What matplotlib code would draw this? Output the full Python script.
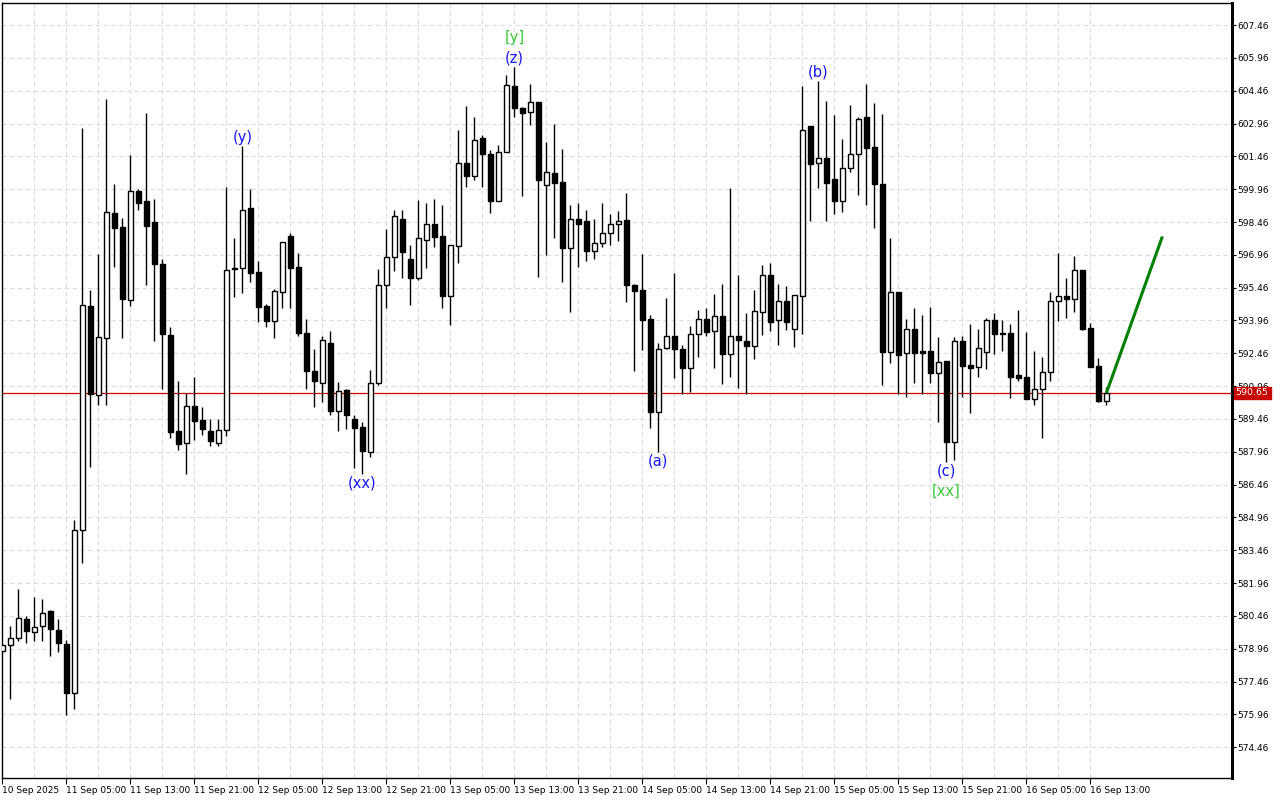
import numpy as np
import pandas as pd
import matplotlib
matplotlib.use('Agg')
import matplotlib.pyplot as plt
import matplotlib.transforms as mtransforms

# hourly bars, 10 Sep 21:00 .. 16 Sep 15:00
start_time = '2025-09-10 21:00'

opens = [578.85, 579.12, 579.45, 580.32, 579.73, 580.00, 580.68, 579.80, 579.18, 576.92,
         584.39, 594.64, 590.56, 593.17, 598.86, 598.22, 594.89, 599.88, 599.42, 598.44,
         596.54, 593.29, 588.89, 588.34, 590.05, 589.41, 588.90, 588.37, 588.95, 596.32,
         596.34, 599.08, 596.16, 594.62, 593.95, 595.27, 597.82, 596.42, 593.37, 591.66,
         591.12, 592.94, 589.82, 590.77, 589.48, 589.07, 587.95, 591.08, 595.60, 596.84,
         598.62, 596.79, 595.88, 597.66, 598.39, 597.81, 595.08, 597.37, 601.18, 600.57,
         602.28, 601.59, 599.43, 601.67, 604.67, 603.69, 603.47, 603.94, 600.15, 600.68,
         600.27, 597.28, 598.58, 598.49, 597.15, 597.48, 597.94, 598.39, 598.55, 595.58,
         595.35, 594.05, 589.79, 592.68, 593.25, 592.64, 591.77, 593.32, 594.05, 593.47,
         594.17, 592.45, 593.26, 593.03, 592.80, 594.36, 596.03, 593.98, 594.85, 593.55,
         595.09, 602.84, 601.14, 601.37, 600.42, 599.43, 600.95, 601.59, 603.24, 601.87,
         600.22, 592.53, 595.24, 592.46, 593.55, 592.56, 592.56, 591.54, 592.10, 588.42,
         593.02, 591.92, 591.82, 592.50, 593.98, 593.38, 593.37, 591.47, 591.36, 590.35,
         590.81, 591.62, 594.85, 595.08, 594.92, 596.26, 593.60, 591.88, 590.29]
highs = [579.15, 579.99, 581.71, 580.45, 581.30, 581.21, 580.75, 580.30, 579.35, 584.84,
         602.77, 595.35, 596.99, 604.08, 600.22, 598.65, 601.52, 599.97, 603.45, 599.51,
         596.77, 593.64, 591.19, 590.66, 591.36, 589.99, 589.45, 589.44, 600.04, 597.71,
         601.93, 599.96, 596.68, 594.71, 595.40, 597.55, 597.97, 597.03, 594.02, 592.64,
         593.26, 593.48, 591.13, 590.82, 589.66, 589.30, 591.69, 596.33, 598.16, 599.00,
         599.00, 597.40, 599.46, 599.31, 599.53, 599.23, 597.42, 602.66, 603.75, 603.24,
         602.46, 601.77, 602.00, 605.17, 605.55, 603.72, 604.79, 603.96, 602.13, 602.93,
         601.82, 599.26, 599.31, 599.00, 598.62, 599.31, 598.82, 598.96, 599.77, 595.62,
         596.99, 594.21, 592.91, 594.97, 596.11, 592.86, 593.70, 594.43, 594.51, 595.17,
         595.65, 600.00, 596.06, 594.28, 595.35, 596.49, 596.57, 595.62, 595.53, 595.14,
         604.69, 602.86, 604.90, 603.99, 603.35, 602.25, 603.80, 603.27, 604.76, 603.91,
         603.39, 597.71, 595.26, 594.02, 594.51, 594.21, 594.59, 593.21, 592.12, 593.21,
         593.25, 593.80, 593.57, 594.06, 594.28, 593.98, 593.78, 594.44, 593.42, 592.56,
         592.27, 595.27, 597.06, 595.91, 596.90, 596.28, 593.83, 592.26, 590.90]
lows = [578.82, 576.68, 579.31, 579.20, 579.32, 579.32, 578.63, 578.82, 575.92, 576.21,
        582.89, 587.27, 590.09, 590.09, 596.42, 593.17, 594.63, 599.00, 595.58, 593.03,
        590.81, 588.60, 588.04, 586.93, 588.50, 588.72, 588.24, 588.22, 588.68, 595.05,
        595.23, 595.73, 593.87, 593.67, 593.14, 594.51, 594.51, 593.26, 590.81, 590.02,
        590.22, 589.64, 588.92, 589.02, 587.22, 586.96, 587.70, 591.03, 594.51, 596.21,
        595.90, 594.66, 595.80, 596.36, 597.32, 594.54, 593.74, 596.60, 600.07, 600.40,
        600.07, 598.85, 599.40, 601.65, 603.27, 599.66, 602.88, 595.95, 596.95, 597.74,
        595.73, 594.33, 596.41, 596.69, 596.76, 597.33, 597.40, 597.59, 594.81, 591.66,
        592.61, 589.06, 587.96, 592.66, 591.31, 590.58, 590.67, 592.30, 593.26, 591.77,
        591.04, 591.39, 590.88, 590.58, 592.20, 593.29, 593.49, 592.83, 593.52, 592.76,
        593.34, 598.50, 600.02, 598.50, 598.81, 598.93, 600.76, 599.69, 599.23, 598.20,
        591.01, 592.03, 590.62, 590.47, 591.08, 590.58, 591.11, 589.33, 587.50, 587.58,
        590.48, 589.71, 591.39, 591.74, 592.43, 592.58, 590.43, 591.19, 590.35, 590.12,
        588.57, 591.21, 593.95, 594.09, 594.36, 593.52, 591.83, 590.25, 590.09]
closes = [579.12, 579.43, 580.34, 579.76, 579.96, 580.57, 579.88, 579.20, 576.94, 584.38,
          594.66, 590.58, 593.22, 598.90, 598.20, 594.92, 599.87, 599.34, 598.29, 596.52,
          593.34, 588.87, 588.30, 590.05, 589.38, 588.98, 588.46, 588.95, 596.29, 596.36,
          599.01, 596.11, 594.59, 593.95, 595.29, 597.53, 596.37, 593.37, 591.66, 591.21,
          593.06, 589.83, 590.75, 589.66, 589.05, 588.00, 591.08, 595.60, 596.84, 598.73,
          597.10, 595.88, 597.71, 598.35, 597.78, 595.08, 597.40, 601.18, 600.57, 602.23,
          601.59, 599.43, 601.67, 604.71, 603.68, 603.45, 603.94, 600.40, 600.75, 600.25,
          597.28, 598.61, 598.39, 597.15, 597.51, 597.94, 598.39, 598.52, 595.58, 595.32,
          593.98, 589.79, 592.64, 593.25, 592.64, 591.77, 593.32, 594.05, 593.44, 594.17,
          592.41, 593.26, 593.06, 592.80, 594.38, 596.06, 593.90, 594.85, 593.90, 595.12,
          602.66, 601.11, 601.37, 600.25, 599.43, 600.95, 601.59, 603.19, 601.85, 600.22,
          592.53, 595.24, 592.38, 593.55, 592.48, 592.48, 591.54, 592.07, 588.42, 593.03,
          591.89, 591.80, 592.68, 593.98, 593.35, 593.35, 591.39, 591.34, 590.35, 590.81,
          591.62, 594.85, 595.08, 594.92, 596.26, 593.57, 591.85, 590.29, 590.65]

current_price = 590.65

# wave labels: (bar index, text, colour, anchored above high / below low, stack level)
wave_bars = [30, 64, 64, 45, 82, 102, 118, 118]
wave_texts = ['(y)', '(z)', '[y]', '(xx)', '(a)', '(b)', '(c)', '[xx]']
wave_colors = ['#1414ff', '#1414ff', '#3cc83c', '#1414ff', '#1414ff', '#1414ff', '#1414ff', '#3cc83c']
wave_side = ['top', 'top', 'top', 'bottom', 'bottom', 'top', 'bottom', 'bottom']
wave_level = [0, 0, 1, 0, 0, 0, 0, 1]

# forecast line
proj_x = [138, 145]
proj_y = [590.65, 597.8]

price_ticks = np.round(np.arange(574.46, 607.5, 1.5), 2)

times = pd.date_range(start_time, periods=len(opens), freq='h')
idx = np.arange(len(opens))
o = np.array(opens); h = np.array(highs); l = np.array(lows); c = np.array(closes)
up = c >= o

fig = plt.figure(figsize=(12.8, 8), dpi=100)
ax = fig.add_axes([2 / 1280, 22 / 800, 1230 / 1280, 775 / 800])

# wicks then bodies
ax.vlines(idx, l, h, color='black', linewidth=1, zorder=2)
body_bottom = np.minimum(o, c)
body_height = np.maximum(np.abs(c - o), 0.02)
ax.bar(idx, body_height, bottom=body_bottom, width=0.62,
       color=np.where(up, 'white', 'black'), edgecolor='black', linewidth=1, zorder=3)

# current price line
ax.axhline(current_price, color='#d00000', linewidth=0.9, zorder=1.5)

# forecast
ax.plot(proj_x, proj_y, color='#008000', linewidth=2.2, solid_capstyle='butt', zorder=4)

# wave labels
for b, t, col, side, lev in zip(wave_bars, wave_texts, wave_colors, wave_side, wave_level):
    if side == 'top':
        ax.annotate(t, (b, h[b]), xytext=(0, 1 + lev * 15), textcoords='offset points',
                    ha='center', va='bottom', color=col, fontsize=10.5, zorder=5)
    else:
        ax.annotate(t, (b, l[b]), xytext=(0, -1 - lev * 15), textcoords='offset points',
                    ha='center', va='top', color=col, fontsize=10.5, zorder=5)

# axes ranges
ax.set_xlim(-0.05, 153.7)
ax.set_ylim(573.05, 608.47)

# y axis on the right
ax.yaxis.tick_right()
ax.set_yticks(price_ticks)
ax.set_yticklabels(['%.2f' % p for p in price_ticks], fontsize=6.5)
ax.tick_params(axis='y', length=3, width=0.8, pad=1)

# x axis: labels every 8 bars, grid every 4 bars
major = idx[::8]
labels = []
for k in major:
    if k == 0:
        labels.append(times[k].strftime('%d %b %Y'))
    else:
        labels.append(times[k].strftime('%d %b %H:%M'))
ax.set_xticks(major)
ax.set_xticklabels(labels, fontsize=6.5, ha='left')
ax.set_xticks(idx[::4], minor=True)
ax.tick_params(axis='x', which='major', length=4, width=0.8, pad=2)
ax.tick_params(axis='x', which='minor', length=0)

ax.grid(True, which='both', color='#dddddd', linestyle=(0, (4, 3)), linewidth=0.8)
ax.set_axisbelow(True)

for s in ['left', 'top', 'bottom']:
    ax.spines[s].set_linewidth(1)
ax.spines['right'].set_linewidth(2.2)

# current price tag on the right axis
trans = mtransforms.blended_transform_factory(ax.transAxes, ax.transData)
ax.text(1.003, current_price, '%.2f' % current_price, transform=trans, fontsize=6.8,
        color='white', va='center', ha='left', clip_on=False, zorder=10,
        bbox=dict(boxstyle='square,pad=0.2', facecolor='#c80000', edgecolor='#c80000'))

fig.savefig('out.png', dpi=100)
